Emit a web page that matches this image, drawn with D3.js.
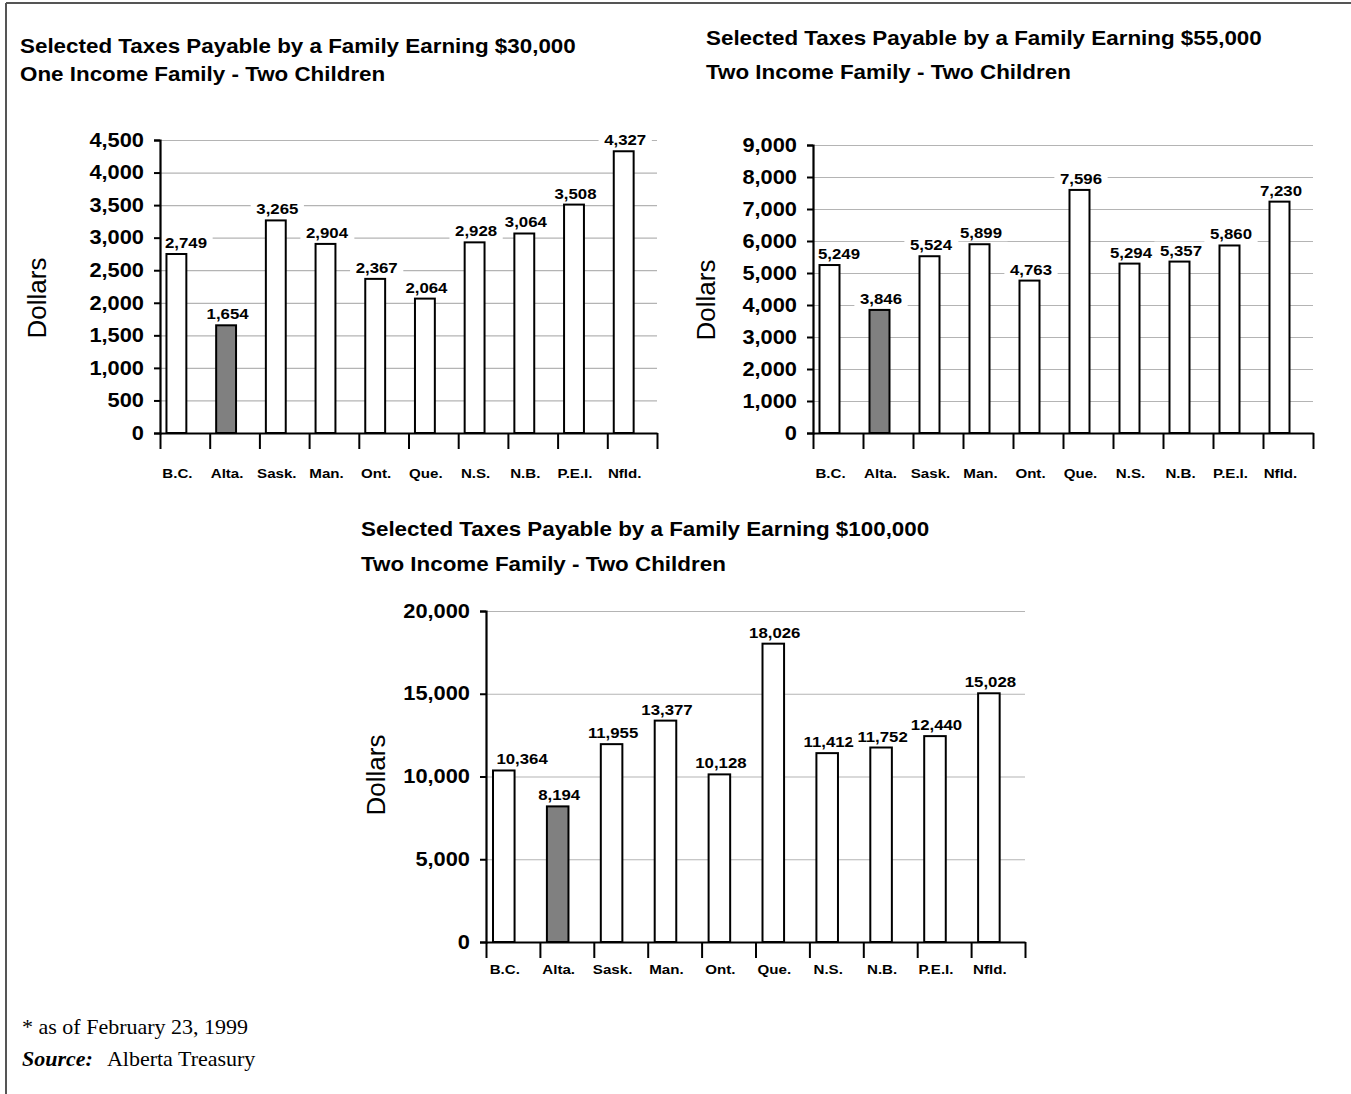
<!DOCTYPE html>
<html>
<head>
<meta charset="utf-8">
<script src="https://cdn.jsdelivr.net/npm/d3@7"></script>
<style>
  html, body { margin: 0; padding: 0; background: #fff; }
  svg { display: block; }
</style>
</head>
<body>
<svg id="chart" width="1351" height="1094"></svg>
<script>
// ---- data ----
const provinces = ["B.C.", "Alta.", "Sask.", "Man.", "Ont.", "Que.", "N.S.", "N.B.", "P.E.I.", "Nfld."];
const highlighted = "Alta.";
const taxes30k = [2749, 1654, 3265, 2904, 2367, 2064, 2928, 3064, 3508, 4327];
const taxes55k = [5249, 3846, 5524, 5899, 4763, 7596, 5294, 5357, 5860, 7230];
const taxes100k = [10364, 8194, 11955, 13377, 10128, 18026, 11412, 11752, 12440, 15028];
const ticks30k = [0, 500, 1000, 1500, 2000, 2500, 3000, 3500, 4000, 4500];
const ticks55k = [0, 1000, 2000, 3000, 4000, 5000, 6000, 7000, 8000, 9000];
const ticks100k = [0, 5000, 10000, 15000, 20000];
const titles30k = ["Selected Taxes Payable by a Family Earning $30,000", "One Income Family - Two Children"];
const titles55k = ["Selected Taxes Payable by a Family Earning $55,000", "Two Income Family - Two Children"];
const titles100k = ["Selected Taxes Payable by a Family Earning $100,000", "Two Income Family - Two Children"];
const yAxisTitle = "Dollars";
const footnote = "* as of February 23, 1999";
const sourceLabel = "Source:";
const sourceText = "Alberta Treasury";

const SANS = "Liberation Sans, Arial, Helvetica, sans-serif";
const SERIF = "Liberation Serif, Times New Roman, serif";
const SX = 1.12; // horizontal stretch of the original lettering

const svg = d3.select("#chart");
const fmt = d3.format(",");

// frame
svg.append("line").attr("x1", 6).attr("y1", 3).attr("x2", 1351).attr("y2", 3)
  .attr("stroke", "#555").attr("stroke-width", 2);
svg.append("line").attr("x1", 6).attr("y1", 3).attr("x2", 6).attr("y2", 1094)
  .attr("stroke", "#555").attr("stroke-width", 2);

function stretchedText(parent, x, y, str, size, weight, anchor) {
  return parent.append("text")
    .attr("transform", `translate(${x},${y}) scale(${SX},1)`)
    .attr("text-anchor", anchor || "start")
    .attr("font-family", SANS).attr("font-size", size).attr("font-weight", weight || "normal")
    .attr("fill", "#000").text(str);
}

function drawChart(cfg) {
  const g = svg.append("g");
  cfg.titles.forEach((t, i) => {
    stretchedText(g, cfg.titleX, cfg.titleYs[i], t, 20, "bold");
  });

  const x = d3.scaleBand().domain(provinces).range([cfg.x0, cfg.x1]).paddingInner(0).paddingOuter(0);
  const y = d3.scaleLinear().domain([0, cfg.ticks[cfg.ticks.length - 1]]).range([cfg.yBottom, cfg.yTop]);
  const bw = x.bandwidth();
  const barOff = bw * 0.13, barW = bw * 0.4;

  // gridlines
  g.append("g").attr("transform", `translate(${cfg.x0},0)`)
    .call(d3.axisLeft(y).tickValues(cfg.ticks.filter(d => d > 0)).tickSize(-(cfg.x1 - cfg.x0)).tickFormat(""))
    .call(s => s.select(".domain").remove())
    .call(s => s.selectAll("line").attr("stroke", "#b4b4b4").attr("stroke-width", 1.2));

  // value labels with white backing
  const lbls = g.append("g");
  cfg.values.forEach((v, i) => {
    const bc = x(provinces[i]) + barOff + barW / 2;
    const grp = lbls.append("g");
    const t = grp.append("text").attr("text-anchor", "middle")
      .attr("font-family", SANS).attr("font-size", 15).attr("font-weight", "bold")
      .attr("fill", "#000").text(fmt(v));
    const bb = t.node().getBBox();
    const halfW = bb.width * SX / 2;
    const cx = Math.max(bc + 1.5, cfg.x0 + cfg.firstPad + halfW);
    grp.attr("transform", `translate(${cx},${y(v) - 6}) scale(${SX},1)`);
    grp.insert("rect", "text").attr("x", bb.x - 5).attr("y", bb.y).attr("width", bb.width + 10)
      .attr("height", bb.height).attr("fill", "#fff");
  });

  // bars
  g.append("g").selectAll("rect").data(cfg.values).join("rect")
    .attr("x", (d, i) => x(provinces[i]) + barOff)
    .attr("y", d => y(d))
    .attr("width", barW)
    .attr("height", d => y(0) - y(d))
    .attr("fill", (d, i) => provinces[i] === highlighted ? "#808080" : "#fff")
    .attr("stroke", "#000").attr("stroke-width", 2);

  // y axis
  g.append("g").attr("transform", `translate(${cfg.x0},0)`)
    .call(d3.axisLeft(y).tickValues(cfg.ticks).tickSize(6).tickPadding(0).tickFormat(fmt))
    .call(s => s.select(".domain").attr("stroke", "#000").attr("stroke-width", 2.2))
    .call(s => s.selectAll("line").attr("stroke", "#000").attr("stroke-width", 2))
    .call(s => s.selectAll("text").attr("x", null).attr("transform", `translate(-16,0) scale(${SX},1)`)
      .attr("font-size", 19.5).attr("font-weight", "bold")
      .attr("fill", "#000").attr("font-family", SANS));

  // x axis boundary ticks
  const xb = d3.scaleLinear().domain([0, provinces.length]).range([cfg.x0, cfg.x1]);
  g.append("g").attr("transform", `translate(0,${cfg.yBottom})`)
    .call(d3.axisBottom(xb).tickValues(d3.range(provinces.length + 1)).tickSize(16).tickSizeOuter(0).tickFormat(""))
    .call(s => s.select(".domain").attr("stroke", "#000").attr("stroke-width", 2.2))
    .call(s => s.selectAll("line").attr("stroke", "#000").attr("stroke-width", 2));

  // x category labels
  g.append("g").attr("transform", `translate(0,${cfg.yBottom})`)
    .call(d3.axisBottom(x).tickSize(0).tickPadding(0))
    .call(s => s.select(".domain").remove())
    .call(s => s.selectAll("text").attr("x", null).attr("y", null).attr("dy", null)
      .attr("transform", `translate(${-bw / 2 + barOff + barW / 2 + 1},${cfg.xLabelDy}) scale(${SX},1)`)
      .attr("font-size", 13.5).attr("font-weight", "bold").attr("fill", "#000")
      .attr("font-family", SANS));

  // y title
  g.append("text").attr("transform", `translate(${cfg.yTitleX},${cfg.yTitleY}) rotate(-90)`)
    .attr("text-anchor", "middle").attr("font-family", SANS).attr("font-size", 26)
    .attr("fill", "#000").text(yAxisTitle);
}

drawChart({ titles: titles30k, titleX: 20, titleYs: [53, 81], values: taxes30k, ticks: ticks30k, firstPad: 5,
  x0: 160, x1: 657, yTop: 140, yBottom: 433, xLabelDy: 45, yTitleX: 46, yTitleY: 298 });
drawChart({ titles: titles55k, titleX: 706, titleYs: [45, 79], values: taxes55k, ticks: ticks55k, firstPad: 5,
  x0: 813, x1: 1313, yTop: 145, yBottom: 433, xLabelDy: 45, yTitleX: 715, yTitleY: 300 });
drawChart({ titles: titles100k, titleX: 361, titleYs: [536, 571], values: taxes100k, ticks: ticks100k, firstPad: 10,
  x0: 486, x1: 1025, yTop: 611, yBottom: 942, xLabelDy: 32, yTitleX: 385, yTitleY: 775 });

// footnotes
svg.append("text").attr("x", 22).attr("y", 1034).attr("font-family", SERIF)
  .attr("font-size", 22).attr("fill", "#000").text(footnote);
const src = svg.append("text").attr("x", 22).attr("y", 1066)
  .attr("font-family", SERIF).attr("font-size", 22).attr("fill", "#000");
src.append("tspan").attr("font-weight", "bold").attr("font-style", "italic").text(sourceLabel);
src.append("tspan").attr("dx", 14).text(sourceText);
</script>
</body>
</html>
